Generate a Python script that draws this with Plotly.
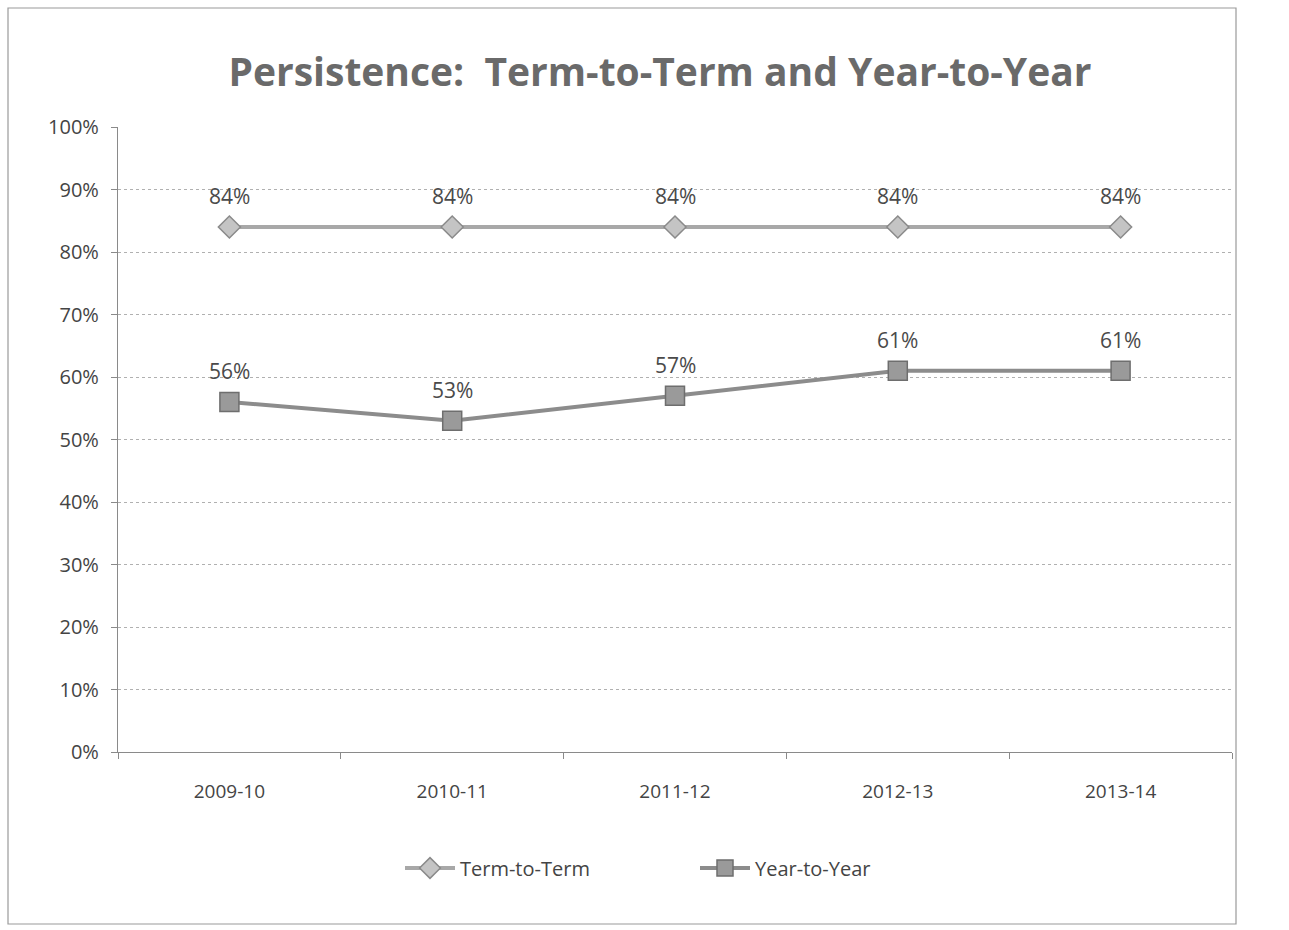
import plotly.graph_objects as go

years = ["2009-10", "2010-11", "2011-12", "2012-13", "2013-14"]
term_to_term = [84, 84, 84, 84, 84]
year_to_year = [56, 53, 57, 61, 61]
y_ticks = [0, 10, 20, 30, 40, 50, 60, 70, 80, 90, 100]

W, H = 1289, 930
L, R, T, B = 118, 57, 127, 178
pw, ph = W - L - R, H - T - B

fig = go.Figure()

fig.add_trace(go.Scatter(
    x=years, y=term_to_term, name="Term-to-Term", mode="lines+markers",
    line=dict(color="#a8a8a8", width=4),
    marker=dict(symbol="diamond", size=17, color="#c4c4c4",
                line=dict(color="#8a8a8a", width=1.5)),
))
fig.add_trace(go.Scatter(
    x=years, y=year_to_year, name="Year-to-Year", mode="lines+markers",
    line=dict(color="#8c8c8c", width=4),
    marker=dict(symbol="square", size=19, color="#9a9a9a",
                line=dict(color="#6e6e6e", width=1.5)),
))

# value labels placed above each point
for series in (term_to_term, year_to_year):
    for x, v in zip(years, series):
        fig.add_annotation(x=x, y=v, text=f"{v}%", showarrow=False,
                           yshift=31, font=dict(size=21, color="#4a4a4a",
                                                family="Open Sans"))

# outer frame of the chart
fig.add_shape(type="rect", xref="paper", yref="paper",
              x0=(8 - L) / pw, x1=(1236 - L) / pw,
              y0=(H - B - 924) / ph, y1=(H - B - 8) / ph,
              line=dict(color="#9a9a9a", width=1.2))

fig.update_layout(
    width=W, height=H,
    margin=dict(l=L, r=R, t=T, b=B),
    paper_bgcolor="white", plot_bgcolor="white",
    title=dict(text="<b>Persistence:  Term-to-Term and Year-to-Year</b>",
               x=660 / W, xanchor="center", y=1 - 72 / H, yanchor="middle",
               font=dict(size=39, color="#6a6a6a", family="Open Sans")),
    xaxis=dict(type="category", showgrid=False, showline=True,
               linecolor="#8a8a8a", linewidth=1.2, ticks="outside",
               ticklen=6, tickcolor="#8a8a8a", tickson="boundaries",
               ticklabelstandoff=22,
               tickfont=dict(size=19, color="#444", family="Open Sans"),
               range=[-0.5, 4.5], fixedrange=True),
    yaxis=dict(range=[0, 100], tickvals=y_ticks,
               ticktext=[f"{v}%" for v in y_ticks],
               showgrid=True, gridcolor="#b0b0b0", griddash="dot",
               gridwidth=1.2, zeroline=False,
               showline=True, linecolor="#8a8a8a", linewidth=1.2,
               ticks="outside", ticklen=6, tickcolor="#8a8a8a",
               ticklabelstandoff=8,
               tickfont=dict(size=20, color="#444", family="Open Sans")),
    legend=dict(orientation="h", x=(400 - L) / pw, xanchor="left",
                y=-(868 - (H - B)) / ph, yanchor="middle",
                font=dict(size=20, color="#444", family="Open Sans"),
                itemwidth=50, entrywidth=230, entrywidthmode="pixels"),
    showlegend=True,
)

fig.write_html("out.html")
